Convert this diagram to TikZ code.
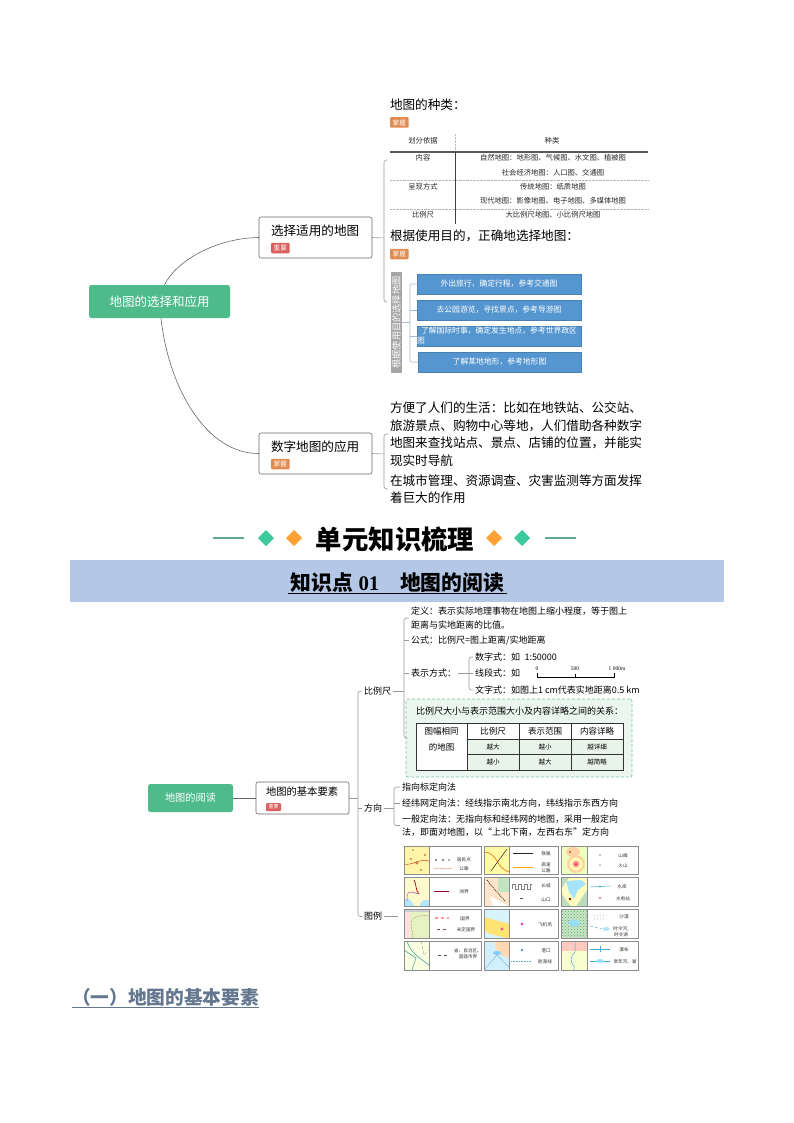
\documentclass[tikz,border=0pt]{standalone}
\usepackage{fontspec}
\setmainfont{Noto Sans CJK SC}
\newfontfamily\serifnum{Liberation Serif}
\usetikzlibrary{shapes.geometric,patterns}
\newcommand{\sz}[2]{\fontsize{#1}{#2}\selectfont}
\definecolor{rootgreen}{HTML}{4FBB8B}
\definecolor{tagred}{HTML}{D9605F}
\definecolor{tagorange}{HTML}{E08B4F}
\definecolor{boxblue}{HTML}{5596D0}
\definecolor{bandblue}{HTML}{B4C7E7}
\definecolor{relgreen}{HTML}{EAF6EF}
\definecolor{cellgreen}{HTML}{E8F4EA}
\definecolor{dashgreen}{HTML}{7CC6A0}
\definecolor{slate}{HTML}{64778F}
\definecolor{diagreen}{HTML}{3CC99B}
\definecolor{diaorange}{HTML}{FFA136}
\definecolor{headline}{HTML}{5FA994}
\definecolor{goalline}{HTML}{A9B8CC}
\begin{document}
\begin{tikzpicture}[x=1pt,y=-1pt,
  every node/.style = {inner sep=0pt, outer sep=0pt, align=center}]
    \tikzstyle{rootbox}=[fill=rootgreen, text=white, rounded corners=2.5pt]
    \tikzstyle{topicbox}=[draw=black!60, fill=white, line width=0.6pt, rounded corners=2pt]
    \tikzstyle{tag}=[text=white, rounded corners=1pt, font=\sz{6.6}{7}, minimum width=18.5pt, minimum height=10.5pt]
    \tikzstyle{branch}=[draw=black!40, line width=0.6pt, rounded corners=2.5pt]
    \tikzstyle{curve}=[draw=black!60, line width=0.6pt]
    \tikzstyle{line}=[anchor=west, align=left, outer sep=2pt]
    \tikzstyle{big}=[line, font=\sz{12.6}{17.6}]
    \tikzstyle{small}=[line, font=\sz{9}{13.5}]
    \tikzstyle{cell}=[font=\sz{7.3}{8}, text=black!85]
    \tikzstyle{bluebox}=[fill=boxblue, text=white, font=\sz{7.8}{10}, minimum height=20pt, draw=boxblue!85!black, line width=0.3pt]
    \tikzstyle{relhead}=[font=\sz{8.5}{16}]
    \tikzstyle{relcell}=[font=\sz{6.5}{7}]
    \tikzstyle{panel}=[draw=black!45, line width=0.7pt]
    \tikzstyle{mapkey}=[font=\sz{4.6}{6}, text=black!80]
    \tikzstyle{deco}=[diamond, minimum width=16pt, minimum height=16pt]
  \path[use as bounding box] (0,0) rectangle (794,1123);

  \node [rootbox, minimum width=141pt, minimum height=33pt, font=\sz{12.5}{13}] (selectroot) at (159.5,301.5) {地图的选择和应用};
  \node [topicbox, minimum width=113pt, minimum height=41pt] (choose) at (315.5,237.5) {};
  \node [anchor=west, font=\sz{12.6}{13}] (choosetext) at (271,231) {选择适用的地图};
  \node [tag, fill=tagred, anchor=west] (choosetag) at (271,248) {重要};
  \node [topicbox, minimum width=113pt, minimum height=41pt] (digital) at (315.5,453.5) {};
  \node [anchor=west, font=\sz{12.6}{13}] (digitaltext) at (271,447) {数字地图的应用};
  \node [tag, fill=tagorange, anchor=west] (digitaltag) at (271,464) {掌握};
  \draw [curve] ([xshift=5pt]selectroot.north) .. controls (175,262) and (215,238) .. (choose.west);
  \draw [curve] ([xshift=1.5pt]selectroot.south) .. controls (168,385) and (205,454) .. (digital.west);

  \coordinate (choosefork) at (384,238);
  \coordinate (kindtop) at (387,160);
  \coordinate (goalend) at (387,302);
  \draw [branch] (choose.east) -- (choosefork);
  \draw [branch] (kindtop) -| (choosefork) |- (goalend);

  \node [big] (kindtitle) at (388,105) {地图的种类：};
  \node [tag, fill=tagorange, anchor=west] (kindtag) at (390,122.5) {掌握};
  \node [cell] (hbasis) at (423,141) {划分依据};
  \node [cell] (hkind) at (552,141) {种类};
  \node [cell] (rowa) at (423,158) {内容};
  \node [cell] (kinda) at (553,158) {自然地图：地形图、气候图、水文图、植被图};
  \node [cell] (kindb) at (553,173) {社会经济地图：人口图、交通图};
  \node [cell] (rowb) at (423,187) {呈现方式};
  \node [cell] (kindc) at (553,187) {传统地图：纸质地图};
  \node [cell] (kindd) at (553,201) {现代地图：影像地图、电子地图、多媒体地图};
  \node [cell] (rowc) at (423,215) {比例尺};
  \node [cell] (kinde) at (553,215) {大比例尺地图、小比例尺地图};
  \draw [black!25, densely dotted, line width=0.4pt] (455,134) -- (455,151);
  \draw [black!65, line width=1.1pt] (390,152) -- (648,152);
  \draw [black!75, line width=0.7pt] (455,152) -- (455,224);
  \draw [black!30, densely dotted, line width=0.4pt] (390,180) -- (648,180);
  \draw [black!30, densely dotted, line width=0.4pt] (390,209) -- (648,209);

  \node [big] (goaltitle) at (388,236) {根据使用目的，正确地选择地图：};
  \node [tag, fill=tagorange, anchor=west] (goaltag) at (390,254) {掌握};
  \node [fill=black!35, text=white, rotate=90, minimum width=101pt, minimum height=11pt, font=\sz{9.2}{10}] (goalside) at (396.5,322.5) {根据使用目的选择地图};
  \node [bluebox, anchor=west, minimum width=164pt] (goala) at (417,284) {外出旅行，确定行程，参考交通图};
  \node [bluebox, anchor=west, minimum width=164pt] (goalb) at (417,310) {去公园游览，寻找景点，参考导游图};
  \node [bluebox, anchor=west, text width=164pt, align=left] (goalc) at (417,336) {\hspace*{4pt}了解国际时事，确定发生地点，参考世界政区\\图};
  \node [bluebox, anchor=west, minimum width=163pt] (goald) at (418,362) {了解某地地形，参考地形图};
  \coordinate (goalfork) at (410,322.5);
  \draw [branch, draw=goalline] (goalside.south) -- (goalfork);
  \draw [branch, draw=goalline, rounded corners=1pt] (goala.west) -| (goalfork) |- (goald.west);
  \draw [branch, draw=goalline] (goalb.west) -- (goalfork |- goalb.west);
  \draw [branch, draw=goalline] (goalc.west) -- (goalfork |- goalc.west);

  \coordinate (digitalfork) at (384,454);
  \node [big] (usea) at (388,434) {方便了人们的生活：比如在地铁站、公交站、\\旅游景点、购物中心等地，人们借助各种数字\\地图来查找站点、景点、店铺的位置，并能实\\现实时导航};
  \node [big] (useb) at (388,489) {在城市管理、资源调查、灾害监测等方面发挥\\着巨大的作用};
  \draw [branch] (digital.east) -- (digitalfork);
  \draw [branch] (usea.west) -| (digitalfork) |- (useb.west);

  \node [font=\bfseries\sz{26.4}{27}] (unittitle) at (395,539) {单元知识梳理};
  \draw [headline, line width=1.4pt] (213,538) -- (244,538);
  \draw [headline, line width=1.4pt] (545,538) -- (576,538);
  \node [deco, fill=diagreen] (diaa) at (266,538) {};
  \node [deco, fill=diaorange] (diab) at (294,538) {};
  \node [deco, fill=diaorange] (diac) at (494,538) {};
  \node [deco, fill=diagreen] (diad) at (522,538) {};

  \fill [bandblue] (70,560) rectangle (724,602);
  \node [font=\bfseries\sz{20.8}{21}] (pointtitle) at (397.5,583) {知识点\hspace{0.25em}{\serifnum 01}\hspace{1em}地图的阅读};
  \draw [black, line width=0.9pt] (288,593.5) -- (507,593.5);

  \node [rootbox, minimum width=85pt, minimum height=28pt, font=\sz{10.2}{11}] (readroot) at (190.5,798) {地图的阅读};
  \node [topicbox, minimum width=93pt, minimum height=32pt] (basic) at (302.5,798) {};
  \node [anchor=west, font=\sz{10.3}{11}] (basictext) at (266,792) {地图的基本要素};
  \node [tag, fill=tagred, anchor=west, minimum width=15pt, minimum height=8pt, font=\sz{5}{5}] (basictag) at (266,807) {重要};
  \draw [curve] (readroot.east) -- (basic.west);
  \coordinate (trunk) at (358,798);
  \node [small] (scale) at (362,691) {比例尺};
  \node [small] (direction) at (362,808.5) {方向};
  \node [small] (legend) at (362,916.5) {图例};
  \draw [branch] (basic.east) -- (trunk);
  \draw [branch] (scale.west) -| (trunk) |- (legend.west);
  \draw [branch] (trunk |- direction.west) -- (direction.west);

  \coordinate (scalefork) at (404,691);
  \node [small] (define) at (409,618) {定义：表示实际地理事物在地图上缩小程度，等于图上\\距离与实地距离的比值。};
  \node [small] (formula) at (409,640) {公式：比例尺=图上距离/实地距离};
  \node [small] (method) at (409,673) {表示方式：};
  \node [draw=dashgreen, densely dashed, fill=relgreen, rounded corners=2pt, line width=0.8pt, minimum width=226pt, minimum height=78pt] (relbox) at (519,738) {};
  \draw [branch] (scale.east) -- (scalefork);
  \draw [branch] (define.west) -| (scalefork) |- (relbox.west);
  \draw [branch] (formula.west) -- (scalefork |- formula.west);
  \draw [branch] (method.west) -- (scalefork |- method.west);

  \coordinate (methodfork) at (469,673);
  \node [small] (numeric) at (473,657) {数字式：如\hspace{0.5em}1:50000};
  \node [small] (linear) at (473,673) {线段式：如};
  \node [small] (wording) at (473,690) {文字式：如图上1 cm代表实地距离0.5 km};
  \draw [branch] (method.east) -- (methodfork);
  \draw [branch] (numeric.west) -| (methodfork) |- (wording.west);
  \draw [branch] (linear.west) -- (methodfork);
  \draw [black, line width=0.6pt] (537,672.5) -- (537,677) -- (614,677) -- (614,672.5);
  \draw [black, line width=0.5pt] (575.5,674) -- (575.5,677);
  \node [font=\serifnum\sz{5.5}{6}] (marka) at (537,669) {0};
  \node [font=\serifnum\sz{5.5}{6}] (markb) at (575,669) {500};
  \node [font=\serifnum\sz{5.5}{6}] (markc) at (617,669) {1 000m};

  \node [small, outer sep=0pt] (reltitle) at (416,711) {比例尺大小与表示范围大小及内容详略之间的关系：};
  \fill [white] (416,723) rectangle (623,739);
  \fill [cellgreen] (416,739) rectangle (623,770);
  \fill [white] (416,723) rectangle (467,770);
  \draw [black!80, line width=0.5pt] (416,723) rectangle (623,770);
  \draw [black!80, line width=0.5pt] (467,739) -- (623,739);
  \draw [black!80, line width=0.5pt] (467,754.5) -- (623,754.5);
  \draw [black!80, line width=0.5pt] (467,723) -- (467,770);
  \draw [black!80, line width=0.5pt] (519,723) -- (519,770);
  \draw [black!80, line width=0.5pt] (571,723) -- (571,770);
  \node [relhead] (relfirst) at (441.5,739) {图幅相同\\的地图};
  \node [relhead] (relscale) at (493,731) {比例尺};
  \node [relhead] (relrange) at (545,731) {表示范围};
  \node [relhead] (reldetail) at (597,731) {内容详略};
  \node [relcell] (cella) at (493,747) {越大};
  \node [relcell] (cellb) at (545,747) {越小};
  \node [relcell] (cellc) at (597,747) {越详细};
  \node [relcell] (celld) at (493,762) {越小};
  \node [relcell] (celle) at (545,762) {越大};
  \node [relcell] (cellf) at (597,762) {越简略};

  \coordinate (directionfork) at (394,808.5);
  \node [small] (arrowway) at (400,787) {指向标定向法};
  \node [small] (gridway) at (400,803) {经纬网定向法：经线指示南北方向，纬线指示东西方向};
  \node [small] (usualway) at (400,825.5) {一般定向法：无指向标和经纬网的地图，采用一般定向\\法，即面对地图，以“上北下南，左西右东”定方向};
  \draw [branch] (direction.east) -- (directionfork);
  \draw [branch] (arrowway.west) -| (directionfork) |- (usualway.west);
  \draw [branch] (gridway.west) -- (directionfork |- gridway.west);
  \coordinate (legendend) at (398,916.5);
  \draw [branch] (legend.east) -- (legendend);

  \fill [yellow!30!white!95!orange] (404,846) rectangle (429,874.5);
  \draw [red!50!brown, line width=0.5pt] (404,864) .. controls (412,866) and (420,858) .. (429,861);
  \fill [brown] (411,859) circle (1.2pt) (425,855) circle (1.2pt) (417,863) circle (1.6pt) (421,870) circle (1.2pt) (413,850) circle (0.8pt);
  \draw [panel] (404,846) rectangle (481,874.5);
  \draw [panel] (429,846) -- (429,874.5);
  \fill [black!60] (436,860) circle (1.1pt) (443,860) circle (1.1pt) (449,860) circle (0.8pt);
  \draw [red!40!brown!60, line width=0.5pt] (434,869) .. controls (440,866) and (446,871) .. (452,868);
  \node [mapkey] (keya) at (464,860) {居民点};
  \node [mapkey] (keyb) at (464,869) {公路};

  \fill [yellow!35] (484,846) rectangle (509.5,874.5);
  \draw [orange!70!brown, line width=0.7pt] (484,852) .. controls (499,853) and (495,868) .. (509.5,872);
  \draw [black, line width=0.4pt] (491,871) -- (507,849);
  \draw [panel] (484,846) rectangle (558,874.5);
  \draw [panel] (509.5,846) -- (509.5,874.5);
  \draw [black!85, line width=0.5pt] (513,853) -- (533,853);
  \draw [orange!70!yellow, line width=0.8pt] (513,867) -- (533,867);
  \node [mapkey] (keyc) at (546,853.5) {铁路};
  \node [mapkey] (keyd) at (546,868) {高速\\公路};

  \fill [green!25!yellow!25!white] (561,846) rectangle (587,874.5);
  \fill [orange!35] (573,852) ellipse (7pt and 5pt);
  \fill [orange!35] (576,864) circle (9pt);
  \fill [yellow!30] (576,864) circle (6.5pt);
  \fill [red!40] (576,864) circle (3.5pt);
  \fill [red!70!black] (576,864) circle (1pt);
  \fill [brown] (570,852) circle (1.3pt);
  \draw [panel] (561,846) rectangle (638,874.5);
  \draw [panel] (587,846) -- (587,874.5);
  \fill [black] (600,855) circle (0.7pt);
  \fill [red!70!black] (600,865) circle (0.6pt);
  \node [mapkey] (keye) at (623,855.5) {山峰};
  \node [mapkey] (keyf) at (623,865.5) {火山};

  \fill [orange!18!yellow!20!white] (404,877.5) rectangle (429,906.5);
  \fill [cyan!30] (404,906.5) -- (404,900) .. controls (410,896) and (412,903) .. (415,906.5) -- cycle;
  \fill [cyan!30] (420,906.5) .. controls (420,899) and (427,899) .. (429,901) -- (429,906.5) -- cycle;
  \draw [red!70!black, line width=0.7pt] (414,880) .. controls (417,885) and (415,890) .. (419,894);
  \draw [violet!70, line width=0.5pt] (418,894) .. controls (412,892) and (408,890) .. (407,896) -- (407,901);
  \draw [panel] (404,877.5) rectangle (481,906.5);
  \draw [panel] (429,877.5) -- (429,906.5);
  \draw [purple!80!black, line width=0.9pt] (434,891) -- (449,891);
  \node [mapkey] (keyg) at (464,891.5) {洲界};

  \fill [orange!20] (484,877.5) rectangle (509.5,906.5);
  \fill [green!40!gray!35] (498,877.5) rectangle (509.5,892);
  \fill [white] (490,896) -- (509.5,906.5) -- (493,906.5) -- cycle;
  \draw [black!60!brown, densely dotted, line width=0.9pt] (487,880) .. controls (493,888) and (497,892) .. (505,901);
  \draw [panel] (484,877.5) rectangle (558,906.5);
  \draw [panel] (509.5,877.5) -- (509.5,906.5);
  \draw [black!50, line width=0.3pt] (512,889) |- (515,884) |- (518,889) |- (521,884) |- (524,889) |- (527,884) |- (530,889) |- (532,884);
  \draw [black!70, line width=0.4pt] (520,898) -- (523,898);
  \node [mapkey] (keyh) at (546,886) {长城};
  \node [mapkey] (keyi) at (546,899.5) {山口};

  \fill [yellow!25] (561,877.5) rectangle (587,906.5);
  \fill [green!30!gray!40] (561,877.5) -- (569,877.5) -- (561,889) -- cycle;
  \fill [green!30!gray!40] (561,893) -- (571,906.5) -- (561,906.5) -- cycle;
  \fill [green!30!gray!40] (587,890) -- (587,906.5) -- (576,906.5) -- cycle;
  \fill [cyan!35] (566,881) -- (581,880) -- (586,884) -- (578,890) -- (574,899) -- (569,892) -- cycle;
  \fill [red!60!black] (570,899) circle (1.3pt);
  \draw [panel] (561,877.5) rectangle (638,906.5);
  \draw [panel] (587,877.5) -- (587,906.5);
  \draw [cyan!70!gray, line width=0.5pt] (590,887) -- (610,886);
  \fill [cyan!70!gray] (600,886.5) circle (1pt);
  \fill [magenta] (600,898) circle (0.9pt);
  \node [mapkey] (keyj) at (622,886.5) {水库};
  \node [mapkey] (keyk) at (623,898.5) {水电站};

  \fill [green!25!yellow!20!white!90!gray] (404,909.5) rectangle (429,938.5);
  \fill [pink!50] (404,909.5) rectangle (410,938.5);
  \fill [black!20] (404,909.5) rectangle (429,912);
  \draw [red!40!black!70, densely dotted, line width=0.5pt] (429,916) .. controls (418,914) and (410,918) .. (411,925) .. controls (412,932) and (414,935) .. (412,938);
  \draw [panel] (404,909.5) rectangle (481,938.5);
  \draw [panel] (429,909.5) -- (429,938.5);
  \draw [pink!80!red, dashed, line width=1.4pt] (435,918) -- (449,918);
  \draw [red!40!black!70, dashed, line width=0.4pt] (437,929) -- (449,929);
  \node [mapkey] (keyl) at (465,918.5) {国界};
  \node [mapkey] (keym) at (466,929.5) {未定国界};

  \fill [cyan!15] (484,909.5) rectangle (509.5,938.5);
  \fill [orange!40!yellow!55] (484,917) -- (509.5,924) -- (509.5,938.5) -- (490,934) -- (484,930) -- cycle;
  \fill [magenta!70] (502,929) circle (1.6pt);
  \draw [panel] (484,909.5) rectangle (558,938.5);
  \draw [panel] (509.5,909.5) -- (509.5,938.5);
  \fill [magenta!70] (522,924) circle (1.6pt);
  \node [mapkey] (keyn) at (545,925) {飞机场};

  \fill [green!30!gray!30] (561,909.5) rectangle (587,938.5);
  \fill [pattern=crosshatch dots, pattern color=green!40!gray] (561,909.5) rectangle (587,938.5);
  \fill [cyan!40] (574,923) ellipse (6pt and 3.5pt);
  \draw [panel] (561,909.5) rectangle (638,938.5);
  \draw [panel] (587,909.5) -- (587,938.5);
  \fill [pattern=dots, pattern color=black!50] (593,914) rectangle (606,920);
  \draw [cyan!60!gray, densely dashed, line width=0.4pt] (590,926) -- (602,929);
  \fill [cyan!30] (606,929) ellipse (3.5pt and 2pt);
  \node [mapkey] (keyo) at (624,917) {沙漠};
  \node [mapkey] (keyp) at (621,931.5) {时令河,\\时令湖};

  \fill [green!20!yellow!12] (404,941) rectangle (429,970);
  \draw [teal!70, line width=0.6pt] (407,941) .. controls (410,952) and (418,957) .. (429,965);
  \draw [teal!70, line width=0.6pt] (404,950) -- (416,958) -- (412,970);
  \draw [black!50, densely dashed, line width=0.3pt] (421,941) -- (424,955) -- (429,950);
  \draw [panel] (404,941) rectangle (481,970);
  \draw [panel] (429,941) -- (429,970);
  \draw [black!70, dashed, line width=0.4pt] (438,955.5) -- (449,955.5);
  \node [mapkey] (keyq) at (468,953.5) {省、自治区、\\直辖市界};

  \fill [cyan!18] (484,941) rectangle (509.5,970);
  \fill [orange!30] (494,941) -- (509.5,941) -- (509.5,958) -- (498,954) -- cycle;
  \fill [blue!40!cyan!50] (497,953) ellipse (4pt and 2pt);
  \draw [cyan!50!gray, line width=0.3pt] (484,970) -- (497,955) -- (509.5,968);
  \draw [panel] (484,941) rectangle (558,970);
  \draw [panel] (509.5,941) -- (509.5,970);
  \fill [cyan!60!blue!70] (522,950) circle (1.4pt);
  \draw [cyan!50!gray, densely dotted, line width=0.6pt] (511,961) -- (531,961);
  \node [mapkey] (keyr) at (546,950.5) {港口};
  \node [mapkey] (keys) at (545,961.5) {航海线};

  \fill [orange!30!red!25] (561,941) rectangle (587,951);
  \fill [green!15!yellow!18] (561,951) rectangle (587,970);
  \draw [cyan!70!gray, line width=0.5pt] (575,941) -- (575,952) .. controls (570,956) and (570,963) .. (574,966) -- (574,970);
  \draw [panel] (561,941) rectangle (638,970);
  \draw [panel] (587,941) -- (587,970);
  \draw [cyan!70!gray, line width=0.4pt] (590,949) -- (610,949);
  \draw [cyan!70!gray, line width=0.4pt] (600,946) -- (600,952);
  \draw [cyan!70!gray, line width=0.4pt] (590,961) -- (610,961);
  \fill [cyan!40] (600,961) ellipse (3.5pt and 2pt);
  \node [mapkey] (keyt) at (624,949.5) {瀑布};
  \node [mapkey] (keyu) at (625,961.5) {常年河、湖};

  \node [anchor=west, text=slate, font=\bfseries\sz{18.7}{19}] (basicsection) at (72,997.5) {（一）地图的基本要素};
  \draw [slate, line width=0.9pt] (72,1007) -- (259,1007);
\end{tikzpicture}
\end{document}
